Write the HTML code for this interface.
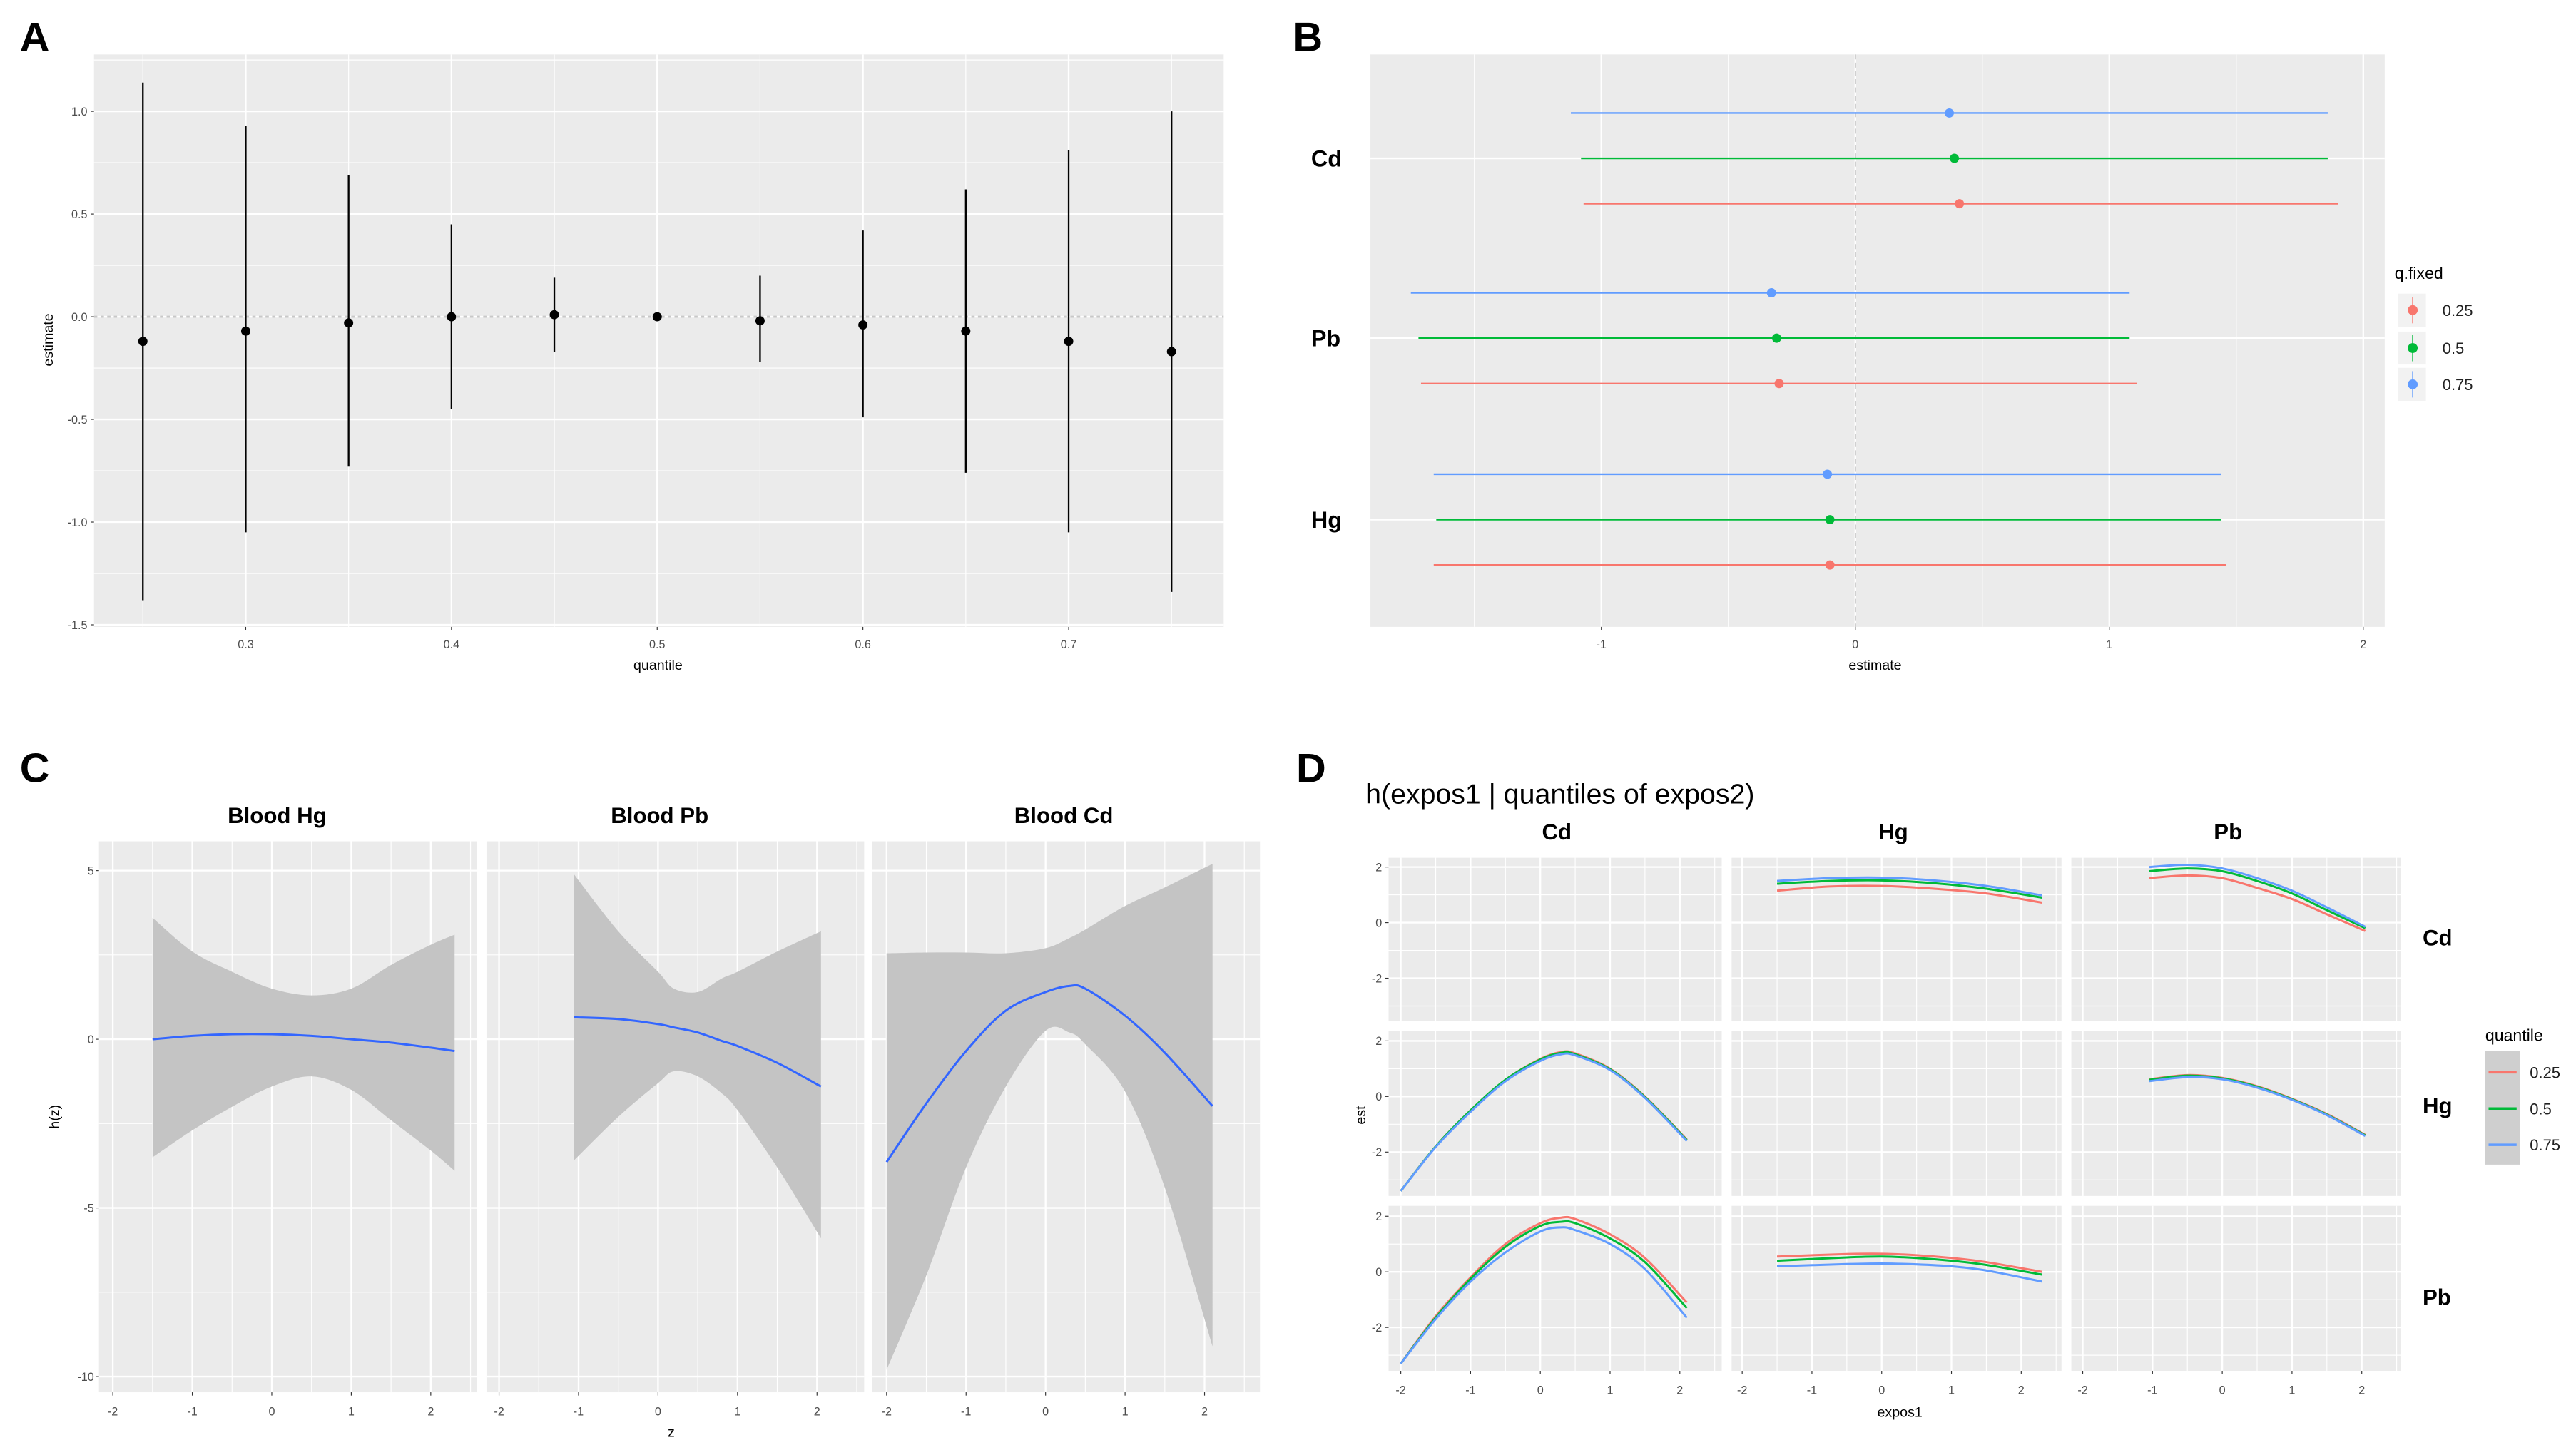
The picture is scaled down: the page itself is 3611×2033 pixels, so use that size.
<!DOCTYPE html>
<html><head><meta charset="utf-8"><style>
html,body{margin:0;padding:0;background:#fff;}
svg{display:block;font-family:"Liberation Sans",Arial,sans-serif;}
.tk{font-size:7px;fill:#4d4d4d;}
.at{font-size:8.5px;fill:#000;}
.st{font-size:14px;font-weight:bold;fill:#000;}
.lt{font-size:25px;font-weight:bold;fill:#000;}
</style></head><body>
<svg id="fig" width="3611" height="2033" viewBox="0 0 1562 879" preserveAspectRatio="none" xmlns="http://www.w3.org/2000/svg">
<text class="lt" x="12" y="31">A</text>
<text class="lt" x="784" y="31">B</text>
<text class="lt" x="12" y="474">C</text>
<text class="lt" x="786" y="474">D</text>
</svg>
<script>
// ---------- Panel A data ----------
const aQuant=[0.25,0.3,0.35,0.4,0.45,0.5,0.55,0.6,0.65,0.7,0.75];
const aEst=[-0.12,-0.07,-0.03,0.0,0.01,0.0,-0.02,-0.04,-0.07,-0.12,-0.17];
const aLow=[-1.38,-1.05,-0.73,-0.45,-0.17,0.0,-0.22,-0.49,-0.76,-1.05,-1.34];
const aHigh=[1.14,0.93,0.69,0.45,0.19,0.0,0.2,0.42,0.62,0.81,1.0];
const aYTicks=[1.0,0.5,0.0,-0.5,-1.0,-1.5];
const aXTicks=[0.3,0.4,0.5,0.6,0.7];
// ---------- Panel B data ----------
const bMetals=["Cd","Pb","Hg"];
const bLevels=["0.25","0.5","0.75"];
const bEst25=[0.41,-0.30,-0.10];
const bLow25=[-1.07,-1.71,-1.66];
const bHigh25=[1.90,1.11,1.46];
const bEst50=[0.39,-0.31,-0.10];
const bLow50=[-1.08,-1.72,-1.65];
const bHigh50=[1.86,1.08,1.44];
const bEst75=[0.37,-0.33,-0.11];
const bLow75=[-1.12,-1.75,-1.66];
const bHigh75=[1.86,1.08,1.44];
const bXTicks=[-1,0,1,2];
// ---------- Panel C data ----------
const cTitles=["Blood Hg","Blood Pb","Blood Cd"];
const cHgZ=[-1.5,-1,-0.5,0,0.5,1,1.5,2,2.3];
const cHgEst=[0.0,0.1,0.15,0.15,0.1,0.0,-0.1,-0.25,-0.35];
const cHgUp=[3.6,2.6,2.0,1.5,1.3,1.5,2.2,2.8,3.1];
const cHgLo=[-3.5,-2.7,-2.0,-1.4,-1.1,-1.5,-2.4,-3.3,-3.9];
const cPbZ=[-1.06,-0.5,0,0.2,0.5,0.8,1,1.5,2.05];
const cPbEst=[0.65,0.6,0.45,0.35,0.2,-0.05,-0.2,-0.7,-1.4];
const cPbUp=[4.9,3.2,2.0,1.5,1.4,1.8,2.0,2.6,3.2];
const cPbLo=[-3.6,-2.3,-1.3,-0.95,-1.1,-1.6,-2.1,-3.8,-5.9];
const cCdZ=[-2,-1.5,-1,-0.5,0,0.3,0.5,1,1.5,2.1];
const cCdEst=[-3.64,-1.9,-0.35,0.85,1.4,1.58,1.5,0.7,-0.4,-1.98];
const cCdUp=[2.55,2.57,2.57,2.55,2.7,3.0,3.25,3.95,4.5,5.2];
const cCdLo=[-9.8,-7.0,-3.8,-1.4,0.25,0.2,-0.15,-1.55,-4.4,-9.1];
const cYTicks=[5,0,-5,-10];
const cXTicks=[-2,-1,0,1,2];
// ---------- Panel D data ----------
const dCols=["Cd","Hg","Pb"];
const dRows=["Cd","Hg","Pb"];
const dQuant=["0.25","0.5","0.75"];
const dX_HgCd=[-1.5,-0.75,0,0.75,1.5,2.3];
const dR_HgCd=[1.15,1.3,1.32,1.22,1.05,0.72];
const dG_HgCd=[1.4,1.5,1.52,1.42,1.22,0.9];
const dB_HgCd=[1.5,1.6,1.62,1.52,1.32,0.98];
const dX_PbCd=[-1.05,-0.5,0,0.5,1,1.5,2.05];
const dR_PbCd=[1.6,1.7,1.6,1.25,0.85,0.3,-0.3];
const dG_PbCd=[1.85,1.95,1.85,1.5,1.05,0.45,-0.2];
const dB_PbCd=[2.0,2.08,1.95,1.6,1.15,0.55,-0.15];
const dX_CdHg=[-2,-1.5,-1,-0.5,0,0.3,0.5,1,1.5,2.1];
const dR_CdHg=[-3.4,-1.8,-0.5,0.6,1.35,1.6,1.55,1.0,0.0,-1.55];
const dG_CdHg=[-3.4,-1.8,-0.5,0.6,1.33,1.57,1.52,0.98,-0.02,-1.57];
const dB_CdHg=[-3.4,-1.82,-0.55,0.55,1.28,1.52,1.48,0.95,-0.05,-1.6];
const dX_PbHg=[-1.05,-0.5,0,0.5,1,1.5,2.05];
const dR_PbHg=[0.62,0.77,0.67,0.37,-0.08,-0.63,-1.38];
const dG_PbHg=[0.6,0.75,0.65,0.35,-0.1,-0.65,-1.4];
const dB_PbHg=[0.55,0.7,0.62,0.32,-0.12,-0.67,-1.42];
const dX_CdPb=[-2,-1.5,-1,-0.5,0,0.3,0.5,1,1.5,2.1];
const dR_CdPb=[-3.3,-1.6,-0.2,1.0,1.75,1.95,1.9,1.35,0.5,-1.1];
const dG_CdPb=[-3.3,-1.65,-0.25,0.9,1.65,1.8,1.75,1.2,0.35,-1.3];
const dB_CdPb=[-3.3,-1.7,-0.35,0.7,1.45,1.6,1.5,1.0,0.1,-1.65];
const dX_HgPb=[-1.5,-0.5,0,0.5,1,1.5,2.3];
const dR_HgPb=[0.55,0.64,0.65,0.6,0.5,0.35,0.0];
const dG_HgPb=[0.4,0.52,0.55,0.5,0.4,0.25,-0.1];
const dB_HgPb=[0.2,0.28,0.3,0.27,0.2,0.05,-0.35];
const dYTicks=[2,0,-2];
const dXTicks=[-2,-1,0,1,2];

const NS="http://www.w3.org/2000/svg";
const svg=document.getElementById('fig');
function mk(tag,attrs,parent){const e=document.createElementNS(NS,tag);for(const k in attrs)e.setAttribute(k,attrs[k]);(parent||svg).appendChild(e);return e;}
function txt(s,x,y,cls,anchor,parent){const t=mk('text',{x:x,y:y,class:cls,'text-anchor':anchor||'middle'},parent);t.textContent=s;return t;}
function smooth(pts){let d='M'+pts[0][0]+','+pts[0][1];for(let i=0;i<pts.length-1;i++){const p0=pts[i-1]||pts[i],p1=pts[i],p2=pts[i+1],p3=pts[i+2]||p2;const c1x=p1[0]+(p2[0]-p0[0])/6,c1y=p1[1]+(p2[1]-p0[1])/6,c2x=p2[0]-(p3[0]-p1[0])/6,c2y=p2[1]-(p3[1]-p1[1])/6;d+=' C'+c1x+','+c1y+' '+c2x+','+c2y+' '+p2[0]+','+p2[1];}return d;}
const COL=["#F8766D","#00BA38","#619CFF"];

// ---------- Panel A ----------
(function(){
const g=mk('g',{});
const L=57,R=742,T=33,B=380;
const x=q=>149+(q-0.3)*1247.5, y=v=>192-124.5*v;
const bg=mk('rect',{x:L,y:T,width:R-L,height:B-T,fill:'#EBEBEB'},g);
for(let i=0;i<aYTicks.length;i++){const v=aYTicks[i];mk('line',{x1:L,x2:R,y1:y(v),y2:y(v),stroke:'#fff','stroke-width':1},g);if(v+0.25<1.3)mk('line',{x1:L,x2:R,y1:y(v+0.25),y2:y(v+0.25),stroke:'#fff','stroke-width':0.5},g);}
for(const q of aXTicks){mk('line',{x1:x(q),x2:x(q),y1:T,y2:B,stroke:'#fff','stroke-width':1},g);}
for(const q of aXTicks.concat([0.8])){mk('line',{x1:x(q-0.05),x2:x(q-0.05),y1:T,y2:B,stroke:'#fff','stroke-width':0.5},g);}
mk('line',{x1:L,x2:R,y1:y(0),y2:y(0),stroke:'#c8c8c8','stroke-width':1.2,'stroke-dasharray':'2,2'},g);
for(let i=0;i<aQuant.length;i++){
 const l=mk('line',{x1:x(aQuant[i]),x2:x(aQuant[i]),y1:y(aLow[i]),y2:y(aHigh[i]),stroke:'#000','stroke-width':1},g);
 
 const c=mk('circle',{cx:x(aQuant[i]),cy:y(aEst[i]),r:2.8,fill:'#000'},g);
 
}
for(const v of aYTicks){const t=txt(v.toFixed(1),53,y(v)+2.5,'tk','end',g);mk('line',{x1:55,x2:57,y1:y(v),y2:y(v),stroke:'#333','stroke-width':0.5},g);}
for(const q of aXTicks){const t=txt(String(q),x(q),393,'tk','middle',g);mk('line',{x1:x(q),x2:x(q),y1:B,y2:B+2,stroke:'#333','stroke-width':0.5},g);}
const xt=txt('quantile',399,406,'at','middle',g);
const yt=txt('estimate',0,0,'at','middle',g);yt.setAttribute('transform','translate(32,206) rotate(-90)');
})();

// ---------- Panel B ----------
(function(){
const g=mk('g',{});
const L=831,R=1446,T=33,B=380;
const x=v=>1125+154*v;const cy=[96,205,315];
const bg=mk('rect',{x:L,y:T,width:R-L,height:B-T,fill:'#EBEBEB'},g);
for(const v of bXTicks){mk('line',{x1:x(v),x2:x(v),y1:T,y2:B,stroke:'#fff','stroke-width':1},g);mk('line',{x1:x(v-0.5),x2:x(v-0.5),y1:T,y2:B,stroke:'#fff','stroke-width':0.5},g);}
for(const c of cy)mk('line',{x1:L,x2:R,y1:c,y2:c,stroke:'#fff','stroke-width':1},g);
mk('line',{x1:x(0),x2:x(0),y1:T,y2:B,stroke:'#999','stroke-width':0.6,'stroke-dasharray':'3,2'},g);
const sets=[[bEst25,bLow25,bHigh25,27.5],[bEst50,bLow50,bHigh50,0],[bEst75,bLow75,bHigh75,-27.5]];
for(let s=0;s<3;s++){const [e,lo,hi,off]=sets[s];for(let i=0;i<bMetals.length;i++){const yy=cy[i]+off;
 const l=mk('line',{x1:x(lo[i]),x2:x(hi[i]),y1:yy,y2:yy,stroke:COL[s],'stroke-width':1},g);
 
 const c=mk('circle',{cx:x(e[i]),cy:yy,r:2.8,fill:COL[s]},g);
 }}
for(let i=0;i<bMetals.length;i++){const t=txt(bMetals[i],795,cy[i]+5,'st','start',g);}
for(const v of bXTicks){const t=txt(String(v),x(v),393,'tk','middle',g);mk('line',{x1:x(v),x2:x(v),y1:B,y2:B+2,stroke:'#333','stroke-width':0.5},g);}
const xt=txt('estimate',1137,406,'at','middle',g);
const lt=txt('q.fixed',1452,169,'at','start',g);lt.style.fontSize='10px';
const ly=[188,211,233];
for(let s=0;s<3;s++){const le=mk('g',{},g);
 mk('rect',{x:1454,y:ly[s]-10,width:17,height:20,fill:'#F2F2F2'},le);
 mk('line',{x1:1463,x2:1463,y1:ly[s]-8,y2:ly[s]+8,stroke:COL[s],'stroke-width':0.7},le);
 mk('circle',{cx:1463,cy:ly[s],r:3,fill:COL[s]},le);
 const t=txt(bLevels[s],1481,ly[s]+3.5,'tk','start',le);t.style.fontSize='9.5px';t.style.fill='#222';}
})();

// ---------- Panel C ----------
(function(){
const g=mk('g',{});
const T=510,B=844;const y=v=>630-20.45*v;
const facets=[[60,289,164.8,cHgZ,cHgEst,cHgUp,cHgLo],[295,524,399,cPbZ,cPbEst,cPbUp,cPbLo],[529,764,634,cCdZ,cCdEst,cCdUp,cCdLo]];
const titleX=[168,400,645];
facets.forEach((f,k)=>{const [L,R,x0,Z,E,U,Lo]=f;const x=v=>x0+48.2*v;
 const fg=mk('g',{},g);
 mk('rect',{x:L,y:T,width:R-L,height:B-T,fill:'#EBEBEB'},fg);
 for(const v of cYTicks){mk('line',{x1:L,x2:R,y1:y(v),y2:y(v),stroke:'#fff','stroke-width':1},fg);mk('line',{x1:L,x2:R,y1:y(v-2.5),y2:y(v-2.5),stroke:'#fff','stroke-width':0.5},fg);}
 for(const v of cXTicks){mk('line',{x1:x(v),x2:x(v),y1:T,y2:B,stroke:'#fff','stroke-width':1},fg);mk('line',{x1:x(v+0.5),x2:x(v+0.5),y1:T,y2:B,stroke:'#fff','stroke-width':0.5},fg);}
 const up=Z.map((z,i)=>[x(z),y(U[i])]),lo=Z.map((z,i)=>[x(z),y(Lo[i])]).reverse();
 let d=smooth(up);d+=' L'+lo[0][0]+','+lo[0][1]+smooth(lo).replace(/^M[^ C]+/,'')+' Z';
 const band=mk('path',{d:d,fill:'#C4C4C4'},fg);
 const ln=mk('path',{d:smooth(Z.map((z,i)=>[x(z),y(E[i])])),fill:'none',stroke:'#3366FF','stroke-width':1.3},fg);
 for(const v of cXTicks){const t=txt(String(v),x(v),858,'tk','middle',fg);mk('line',{x1:x(v),x2:x(v),y1:B,y2:B+2,stroke:'#333','stroke-width':0.5},fg);}
 const st=txt(cTitles[k],titleX[k],499,'st','middle',fg);st.style.fontSize='13.5px';
});
for(const v of cYTicks){const t=txt(String(v),57,y(v)+2.5,'tk','end',g);mk('line',{x1:58,x2:60,y1:y(v),y2:y(v),stroke:'#333','stroke-width':0.5},g);}
const xt=txt('z',407,871,'at','middle',g);
const yt=txt('h(z)',0,0,'at','middle',g);yt.setAttribute('transform','translate(36,677) rotate(-90)');
})();

// ---------- Panel D ----------
(function(){
const g=mk('g',{});
const colL=[842,1050,1256],colR=[1044,1250,1456],colX0=[934,1141,1347.5];
const rowT=[520,625,731],rowB=[619,725,831],rowY0=[559.3,664.7,771];
const ux=42.3,uy=16.85;
const lines={"0,1":[dX_HgCd,dR_HgCd,dG_HgCd,dB_HgCd],"0,2":[dX_PbCd,dR_PbCd,dG_PbCd,dB_PbCd],"1,0":[dX_CdHg,dR_CdHg,dG_CdHg,dB_CdHg],"1,2":[dX_PbHg,dR_PbHg,dG_PbHg,dB_PbHg],"2,0":[dX_CdPb,dR_CdPb,dG_CdPb,dB_CdPb],"2,1":[dX_HgPb,dR_HgPb,dG_HgPb,dB_HgPb]};
for(let r=0;r<3;r++)for(let c=0;c<3;c++){
 const L=colL[c],R=colR[c],T=rowT[r],B=rowB[r];const x=v=>colX0[c]+ux*v,y=v=>rowY0[r]-uy*v;
 const fg=mk('g',{},g);
 mk('rect',{x:L,y:T,width:R-L,height:B-T,fill:'#EBEBEB'},fg);
 for(const v of dYTicks){mk('line',{x1:L,x2:R,y1:y(v),y2:y(v),stroke:'#fff','stroke-width':1},fg);mk('line',{x1:L,x2:R,y1:y(v-1),y2:y(v-1),stroke:'#fff','stroke-width':0.5},fg);}
 for(const v of dXTicks){mk('line',{x1:x(v),x2:x(v),y1:T,y2:B,stroke:'#fff','stroke-width':1},fg);if(v<2.5)mk('line',{x1:x(v+0.5),x2:x(v+0.5),y1:T,y2:B,stroke:'#fff','stroke-width':0.5},fg);}
 const ds=lines[r+','+c];
 if(ds){for(let s=0;s<3;s++){const p=mk('path',{d:smooth(ds[0].map((xx,i)=>[x(xx),y(ds[s+1][i])])),fill:'none',stroke:COL[s],'stroke-width':1.3},fg);
  }}
 if(c===0)for(const v of dYTicks){const t=txt(String(v),838,y(v)+2.5,'tk','end',g);mk('line',{x1:840,x2:842,y1:y(v),y2:y(v),stroke:'#333','stroke-width':0.5},g);}
 if(r===2)for(const v of dXTicks){const t=txt(String(v),x(v),845,'tk','middle',g);mk('line',{x1:x(v),x2:x(v),y1:B,y2:B+2,stroke:'#333','stroke-width':0.5},g);}
}
const tt=txt('h(expos1 | quantiles of expos2)',828,487,'at','start',g);tt.style.fontSize='17px';
const colTX=[944,1148,1351];
for(let c=0;c<3;c++){const t=txt(dCols[c],colTX[c],509,'st','middle',g);t.style.fontSize='13.5px';}
const rowTY=[573,675,791];
for(let r=0;r<3;r++){const t=txt(dRows[r],1469,rowTY[r],'st','start',g);t.style.fontSize='13.5px';}
const xt=txt('expos1',1152,859,'at','middle',g);
const yt=txt('est',0,0,'at','middle',g);yt.setAttribute('transform','translate(828,676) rotate(-90)');
const lt=txt('quantile',1507,631,'at','start',g);lt.style.fontSize='10px';
mk('rect',{x:1507,y:637,width:21,height:69,fill:'#CFCFCF'},g);
const ly=[650,672,694];
for(let s=0;s<3;s++){const le=mk('g',{},g);
 mk('line',{x1:1509,x2:1526,y1:ly[s],y2:ly[s],stroke:COL[s],'stroke-width':1.5},le);
 const t=txt(dQuant[s],1534,ly[s]+3.5,'tk','start',le);t.style.fontSize='9.5px';t.style.fill='#222';}
})();
</script>
</body></html>
